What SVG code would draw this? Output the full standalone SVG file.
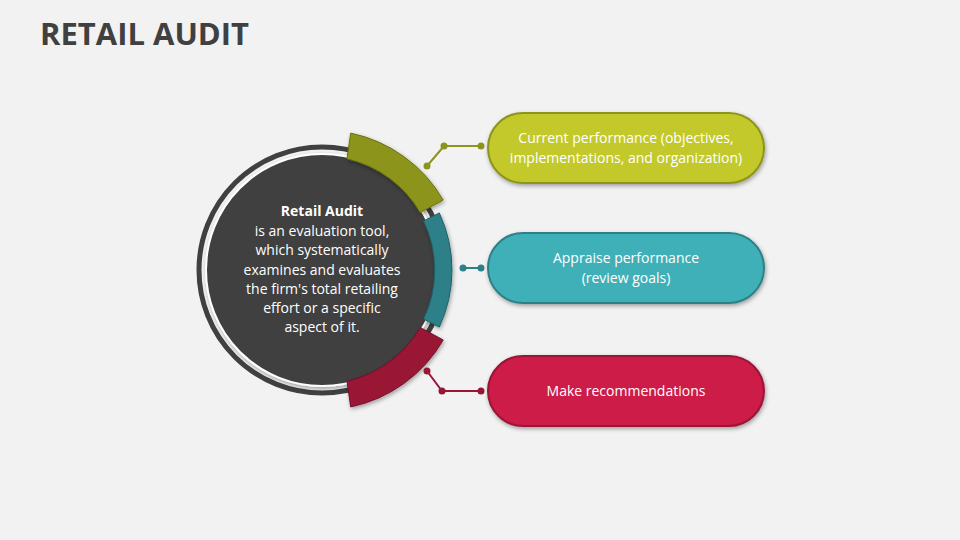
<svg xmlns="http://www.w3.org/2000/svg" width="960" height="540" viewBox="0 0 960 540">
<defs>
<style>
.t{font-family:"Open Sans","Liberation Sans",sans-serif;font-size:14px;fill:#fff;text-anchor:middle}
.c{fill:none;stroke-width:2}
</style>
<filter id="sh" x="-20%" y="-20%" width="140%" height="140%"><feDropShadow dx="1" dy="2" stdDeviation="2" flood-opacity="0.35"/></filter>
</defs>
<rect width="960" height="540" fill="#f2f2f2"/>
<text x="40" y="45" font-family="'Open Sans','Liberation Sans',sans-serif" font-weight="bold" font-size="31" fill="#404040">RETAIL AUDIT</text>
<g id="center">
<circle cx="322" cy="270" r="123" fill="none" stroke="#404040" stroke-width="5"/>
<circle cx="322" cy="270" r="116" fill="#404040" stroke="#fff" stroke-width="2" filter="url(#sh)"/>
<text class="t"><tspan x="322" y="216" font-weight="bold">Retail Audit</tspan><tspan x="322" y="236">is an evaluation tool,</tspan><tspan x="322" y="255">which systematically</tspan><tspan x="322" y="275">examines and evaluates</tspan><tspan x="322" y="294">the firm's total retailing</tspan><tspan x="322" y="313">effort or a specific</tspan><tspan x="322" y="332">aspect of it.</tspan></text>
</g>
<g id="arc1"><path d="M350.7,133.1 A140,140 0 0 1 443.2,200 L420.2,212.5 A114,114 0 0 0 347,158.8 Z" fill="#8c941b" stroke="#6b7210" filter="url(#sh)"/></g>
<g id="arc2"><path d="M439.3,212.9 A135,135 0 0 1 439.3,327.1 L423.6,319 A113,113 0 0 0 423.6,221 Z" fill="#2e8088" stroke="#1f6067" filter="url(#sh)"/></g>
<g id="arc3"><path d="M350.7,406.9 A140,140 0 0 0 443.2,340 L420.2,327.5 A114,114 0 0 1 347,381.2 Z" fill="#9a1535" stroke="#741027" filter="url(#sh)"/></g>
<g id="connectors">
<polyline class="c" points="427,166 444,146 481,146" stroke="#8c941b"/>
<circle cx="427" cy="166" r="3.5" fill="#8c941b"/><circle cx="444" cy="146" r="3.5" fill="#8c941b"/><circle cx="481" cy="146" r="3.5" fill="#8c941b"/>
<line class="c" x1="463" y1="268" x2="481" y2="268" stroke="#2e8088"/>
<circle cx="463" cy="268" r="3.5" fill="#2e8088"/><circle cx="481" cy="268" r="3.5" fill="#2e8088"/>
<polyline class="c" points="427,371 442,391 481,391" stroke="#9a1535"/>
<circle cx="427" cy="371" r="3.5" fill="#9a1535"/><circle cx="442" cy="391" r="3.5" fill="#9a1535"/><circle cx="481" cy="391" r="3.5" fill="#9a1535"/>
</g>
<g id="box1"><rect x="488" y="113" width="276" height="70" rx="35" fill="#c3c929" stroke="#8c941b" stroke-width="2" filter="url(#sh)"/>
<text class="t"><tspan x="626" y="143">Current performance (objectives,</tspan><tspan x="626" y="163">implementations, and organization)</tspan></text></g>
<g id="box2"><rect x="488" y="233" width="276" height="70" rx="35" fill="#3fb0b8" stroke="#2e8088" stroke-width="2" filter="url(#sh)"/>
<text class="t"><tspan x="626" y="263">Appraise performance</tspan><tspan x="626" y="283">(review goals)</tspan></text></g>
<g id="box3"><rect x="488" y="356" width="276" height="70" rx="35" fill="#cc1a47" stroke="#9a1535" stroke-width="2" filter="url(#sh)"/>
<text class="t"><tspan x="626" y="396">Make recommendations</tspan></text></g>
</svg>
